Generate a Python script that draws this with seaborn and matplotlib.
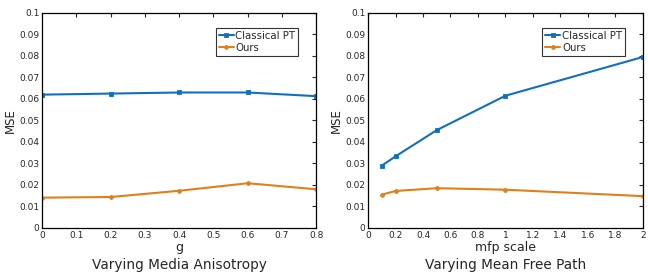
import numpy as np
import pandas as pd
import matplotlib
matplotlib.use("Agg")
import matplotlib.pyplot as plt
import seaborn as sns

# ── Data ──────────────────────────────────────────────────────────────────────
g_values        = [0.0, 0.2, 0.4, 0.6, 0.8]
g_classical     = [0.0620, 0.0625, 0.0630, 0.0630, 0.0613]
g_ours          = [0.0141, 0.0144, 0.0173, 0.0208, 0.0180]

mfp_values      = [0.1, 0.2, 0.5, 1.0, 2.0]
mfp_classical   = [0.0290, 0.0333, 0.0455, 0.0615, 0.0795]
mfp_ours        = [0.0155, 0.0172, 0.0185, 0.0178, 0.0148]

series_names    = ["Classical PT", "Ours"]
colors          = {"Classical PT": "#1170BE", "Ours": "#E0801A"}
markers         = {"Classical PT": "s", "Ours": "P"}

sns.set_style("white")
plt.rcParams["font.family"] = ["DejaVu Sans"]


def make_frame(x, classical, ours):
    return pd.DataFrame({
        "x": list(x) * 2,
        "mse": list(classical) + list(ours),
        "method": [series_names[0]] * len(x) + [series_names[1]] * len(x),
    })


def draw_panel(ax, df, xlim, xticks, xticklabels, xlabel, title):
    for name, group in df.groupby("method", sort=False):
        sns.lineplot(
            data=group, x="x", y="mse", ax=ax,
            color=colors[name], marker=markers[name], markersize=3,
            markeredgewidth=0.6, markeredgecolor=colors[name],
            linewidth=1.5, label=name,
        )
    ax.set_xlim(*xlim)
    ax.set_ylim(0, 0.1)
    ax.set_xticks(xticks)
    ax.set_xticklabels(xticklabels)
    yt = np.round(np.arange(0, 0.101, 0.01), 2)
    ax.set_yticks(yt)
    ax.set_yticklabels(["0"] + [f"{v:g}" for v in yt[1:]])
    ax.tick_params(direction="in", length=3, width=0.8, labelsize=6.5,
                   top=True, right=True, pad=2)
    for s in ax.spines.values():
        s.set_linewidth(0.9)
        s.set_color("black")
    ax.set_ylabel("MSE", fontsize=8.5, labelpad=2)
    ax.set_xlabel(xlabel, fontsize=9, labelpad=1)
    ax.text(0.5, -0.14, title, transform=ax.transAxes, ha="center",
            va="top", fontsize=9.8)
    leg = ax.legend(loc="upper right", bbox_to_anchor=(0.935, 0.93),
                    fontsize=7.3, frameon=True, fancybox=False,
                    handlelength=1.5, handletextpad=0.15, borderpad=0.3,
                    labelspacing=0.2, borderaxespad=0)
    leg.get_frame().set_edgecolor("black")
    leg.get_frame().set_linewidth(0.8)


fig = plt.figure(figsize=(6.48, 2.75), dpi=100)
ax1 = fig.add_axes([0.065, 0.171, 0.423, 0.782])
ax2 = fig.add_axes([0.568, 0.171, 0.424, 0.782])

draw_panel(ax1, make_frame(g_values, g_classical, g_ours),
           (0, 0.8), np.round(np.arange(0, 0.81, 0.1), 1),
           ["0"] + [f"{v:g}" for v in np.round(np.arange(0.1, 0.81, 0.1), 1)],
           "g", "Varying Media Anisotropy")
draw_panel(ax2, make_frame(mfp_values, mfp_classical, mfp_ours),
           (0, 2), np.round(np.arange(0, 2.01, 0.2), 1),
           ["0", "0.2", "0.4", "0.6", "0.8", "1", "1.2", "1.4", "1.6", "1.8", "2"],
           "mfp scale", "Varying Mean Free Path")

fig.savefig("out.png", dpi=100)
